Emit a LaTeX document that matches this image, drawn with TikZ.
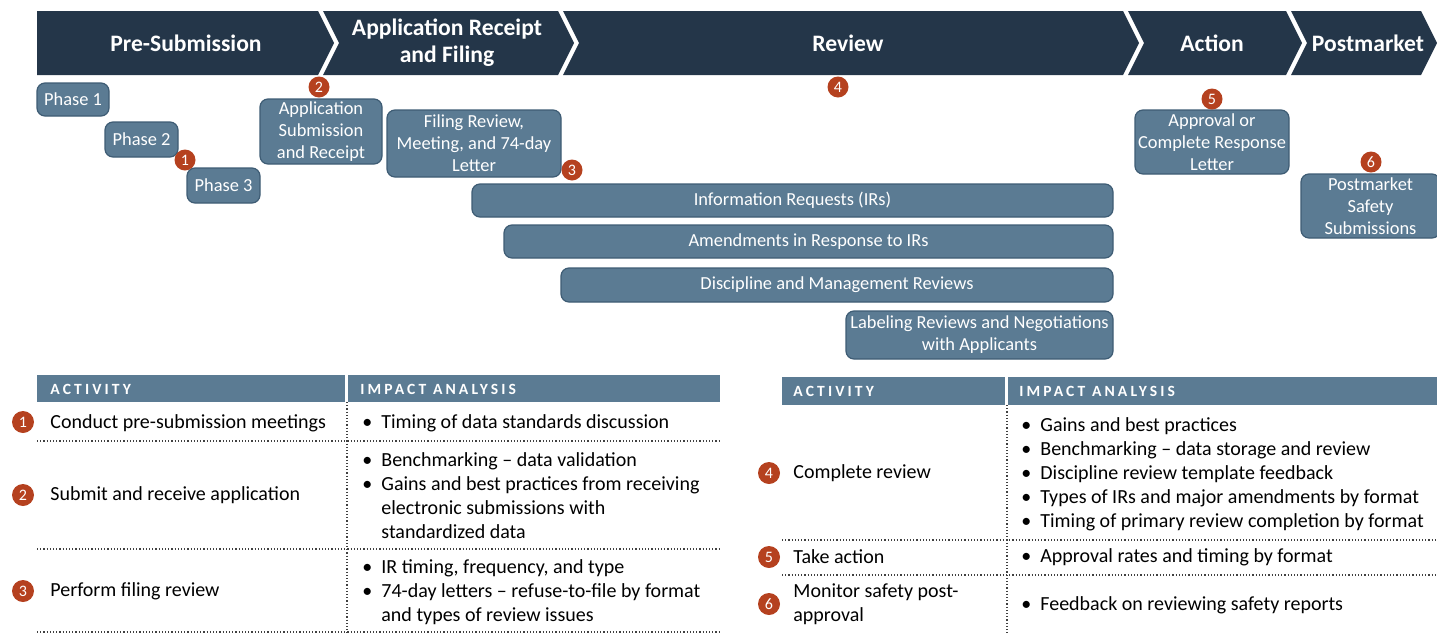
\documentclass[tikz,border=0pt]{standalone}
\usepackage{fontspec}
\setmainfont{Carlito}
\usetikzlibrary{positioning}
\tikzset{%
  phase/.style = {rectangle, rounded corners=4pt, draw=stageline, fill=stage,
                  text=white, align=center, inner sep=0pt, line width=0.6pt,
                  font=\fontsize{9.2}{11}\selectfont},
  num/.style = {circle, fill=rust, text=white, minimum size=10.5pt,
                inner sep=0pt, font=\fontsize{8}{8}\selectfont},
  hdrtxt/.style = {text=white, align=center,
                   font=\bfseries\fontsize{11.8}{13.5}\selectfont},
  colhead/.style = {text=white, anchor=west, inner sep=0pt,
                    font=\bfseries\fontsize{7.8}{8}\selectfont\addfontfeature{LetterSpace=20}},
  cell/.style = {anchor=west, align=left, inner sep=0pt,
                 font=\fontsize{10}{12}\selectfont},
  sep/.style = {densely dotted, line width=0.6pt, black!75}
  }
\definecolor{hdr}{HTML}{243649}
\definecolor{stage}{HTML}{5B7B93}
\definecolor{stageline}{HTML}{3E5C74}
\definecolor{rust}{HTML}{B5411F}
\newcommand{\itm}{\makebox[9.5pt][l]{\textbullet}}
\newcommand{\nxt}{\hspace*{9.5pt}}

\begin{document}
\begin{tikzpicture}[x=0.5pt, y=-0.5pt]
  \useasboundingbox (0,0) rectangle (1437,633);

  % stage chevrons
  \foreach \a/\b/\nl in {37/318/0, 323/558/16, 563/1123/16, 1128/1286/16, 1291/1421/16}
    \fill[hdr] (\a,11) -- (\b,11) -- ++(16,32) -- (\b,75) -- (\a,75) -- ++(\nl,-32) -- cycle;
  \node[hdrtxt] (presub) at (186,43) {Pre-Submission};
  \node[hdrtxt] (receipt) at (447,43) {Application Receipt\\and Filing};
  \node[hdrtxt] (review) at (848,43) {Review};
  \node[hdrtxt] (action) at (1212,43) {Action};
  \node[hdrtxt] (postmkt) at (1368,43) {Postmarket};

  % timeline boxes
  \node[phase, minimum width=36pt, minimum height=16.5pt] (ph1) at (73,99.5) {Phase 1};
  \node[phase, minimum width=36.5pt, minimum height=17.5pt] (ph2) at (141.5,139.5) {Phase 2};
  \node[phase, minimum width=36.5pt, minimum height=17.5pt] (ph3) at (223.5,185.5) {Phase 3};
  \node[phase, minimum width=61pt, minimum height=32.5pt] (appsub) at (321,131.5)
    {Application\\Submission\\and Receipt};
  \node[phase, minimum width=87pt, minimum height=33.5pt] (filing) at (474,143.5)
    {Filing Review,\\Meeting, and 74-day\\Letter};
  \node[phase, minimum width=320.5pt, minimum height=16.5pt] (irs) at (792.5,200.5)
    {Information Requests (IRs)};
  \node[phase, minimum width=304.5pt, minimum height=16.5pt] (amend) at (808.5,241.5)
    {Amendments in Response to IRs};
  \node[phase, minimum width=276pt, minimum height=17pt] (disc) at (837,285)
    {Discipline and Management Reviews};
  \node[phase, minimum width=133.5pt, minimum height=24pt] (labeling) at (979.5,335)
    {Labeling Reviews and Negotiations\\with Applicants};
  \node[phase, minimum width=77pt, minimum height=32pt] (approval) at (1212,142)
    {Approval or\\Complete Response\\Letter};
  \node[phase, minimum width=69.5pt, minimum height=32pt] (pmsafety) at (1370.5,206)
    {Postmarket\\Safety\\Submissions};

  \foreach \n/\x/\y in {1/185/160, 2/319/87, 3/572/170, 4/838/87, 5/1212/99, 6/1371/162}
    \node[num] (s\n) at (\x,\y) {\n};

  % left table
  \fill[stage] (37,375) rectangle (345,402);
  \fill[stage] (348,375) rectangle (720,402);
  \node[colhead] (acta) at (50,389) {ACTIVITY};
  \node[colhead] (impa) at (360,389) {IMPACT ANALYSIS};
  \draw[sep] (37,441) -- (720,441);
  \draw[sep] (37,549) -- (720,549);
  \draw[sep] (37,632) -- (720,632);
  \draw[sep] (347,402) -- (347,633);

  \node[cell] (a1) at (50,423) {Conduct pre-submission meetings};
  \node[cell] (b1) at (362,423) {\itm Timing of data standards discussion};
  \node[cell] (a2) at (50,495) {Submit and receive application};
  \node[cell] (b2) at (362,496) {\itm Benchmarking – data validation\\
    \itm Gains and best practices from receiving\\
    \nxt electronic submissions with\\
    \nxt standardized data};
  \node[cell] (a3) at (50,591) {Perform filing review};
  \node[cell] (b3) at (362,592) {\itm IR timing, frequency, and type\\
    \itm 74-day letters – refuse-to-file by format\\
    \nxt and types of review issues};

  % right table
  \fill[stage] (782,377) rectangle (1005,405);
  \fill[stage] (1008,377) rectangle (1437,405);
  \node[colhead] (actb) at (793,391) {ACTIVITY};
  \node[colhead] (impb) at (1019,391) {IMPACT ANALYSIS};
  \draw[sep] (782,540) -- (1437,540);
  \draw[sep] (782,575) -- (1437,575);
  \draw[sep] (1007,405) -- (1007,633);

  \node[cell] (a4) at (793,473) {Complete review};
  \node[cell] (b4) at (1021,474) {\itm Gains and best practices\\
    \itm Benchmarking – data storage and review\\
    \itm Discipline review template feedback\\
    \itm Types of IRs and major amendments by format\\
    \itm Timing of primary review completion by format};
  \node[cell] (a5) at (793,557) {Take action};
  \node[cell] (b5) at (1021,557) {\itm Approval rates and timing by format};
  \node[cell] (a6) at (793,604) {Monitor safety post-\\approval};
  \node[cell] (b6) at (1021,605) {\itm Feedback on reviewing safety reports};

  \foreach \n/\x/\y in {1/23/422, 2/23/495, 3/23/591, 4/769/473, 5/769/557, 6/769/604}
    \node[num, minimum size=11pt] (t\n) at (\x,\y) {\n};
\end{tikzpicture}
\end{document}
